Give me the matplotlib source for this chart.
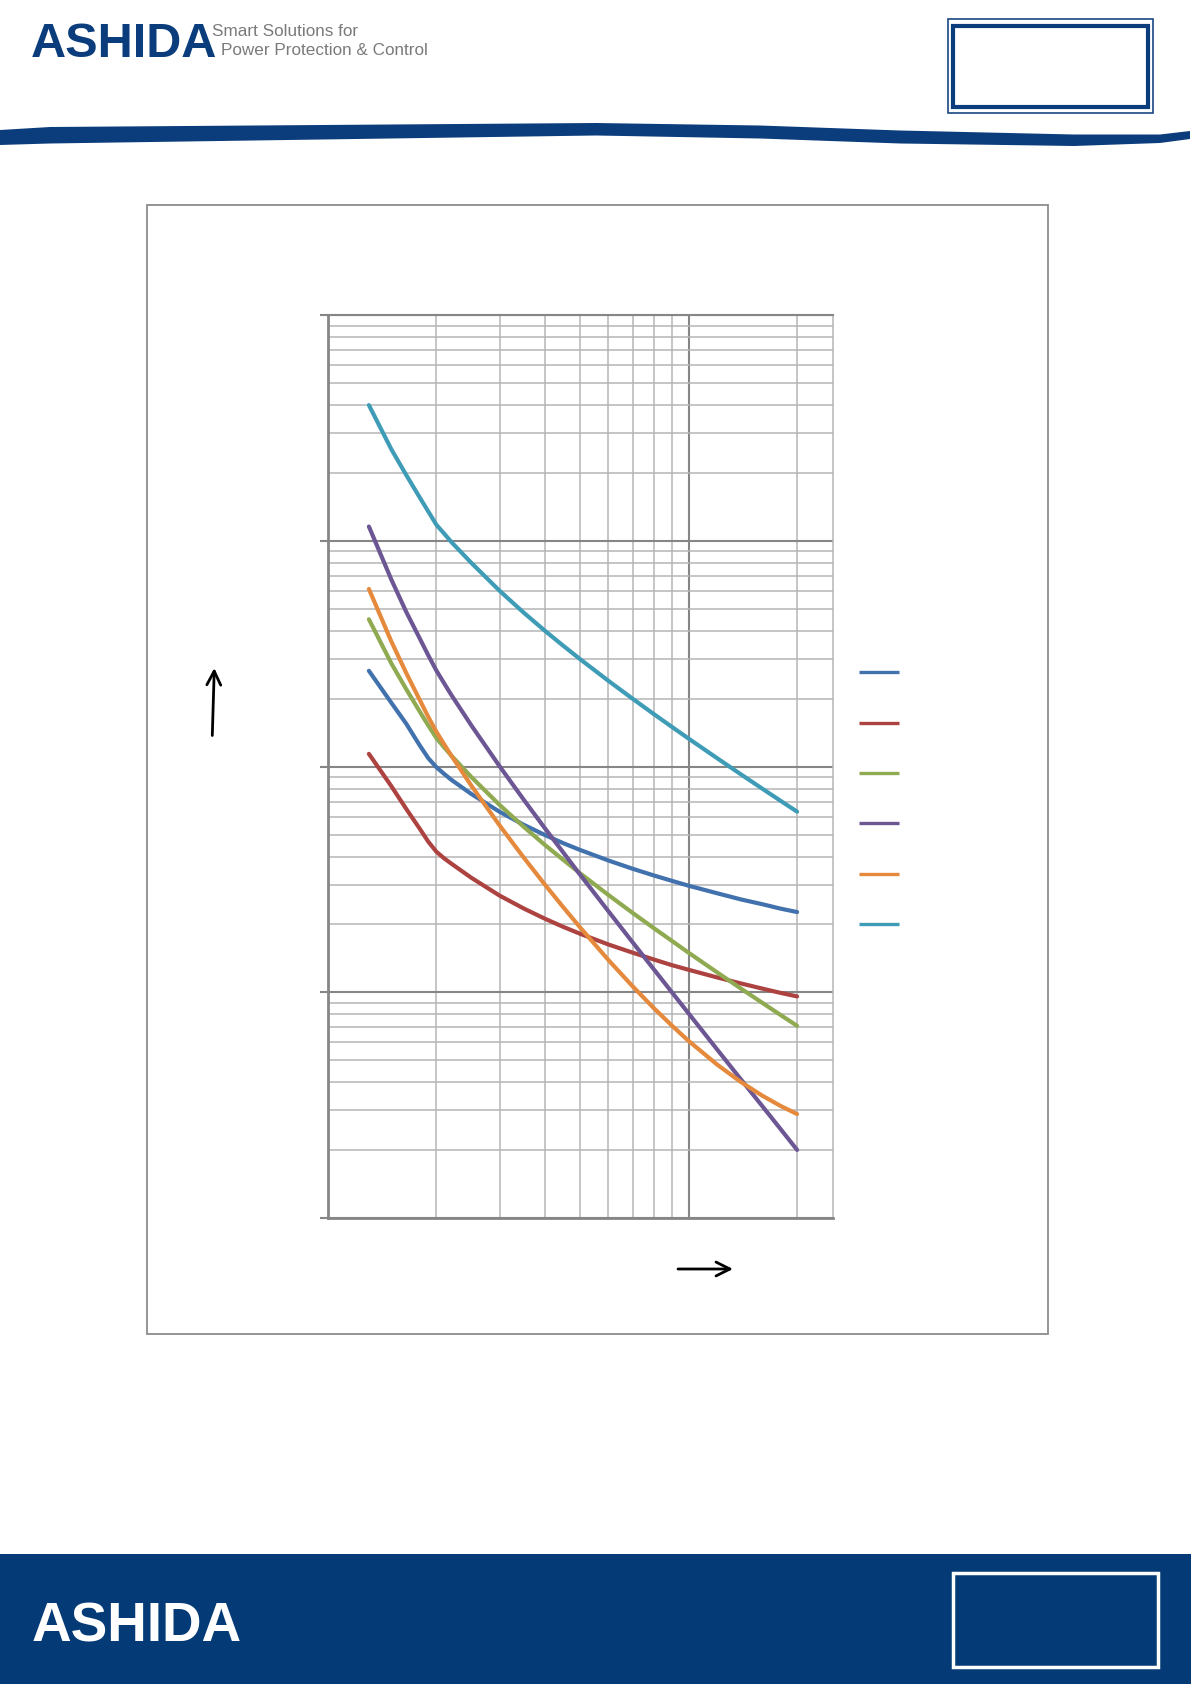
import numpy as np
import matplotlib
matplotlib.use("Agg")
import matplotlib.pyplot as plt
from matplotlib.patches import Rectangle, Polygon
from matplotlib.lines import Line2D
from matplotlib.ticker import LogLocator, NullFormatter

# ---------------- data ----------------
multiples = [1.3, 1.5, 1.65, 1.8, 1.9, 2, 2.1, 2.2, 2.5, 3, 3.5, 4, 4.5, 5, 6, 7, 8,
             9, 10, 12, 14, 16, 18, 20]

curve_blue = [26.6, 19.2, 15.5, 12.4, 10.9, 9.95, 9.3, 8.75, 7.57, 6.30, 5.52, 4.98,
              4.58, 4.28, 3.84, 3.53, 3.30, 3.12, 2.97, 2.75, 2.58, 2.46, 2.35, 2.27]
curve_red = [11.4, 8.2, 6.5, 5.3, 4.65, 4.2, 3.93, 3.72, 3.22, 2.68, 2.35, 2.12, 1.95,
             1.82, 1.63, 1.50, 1.40, 1.32, 1.26, 1.165, 1.095, 1.04, 0.995, 0.96]
curve_green = [45.0, 28.7, 22.05, 17.5, 15.2, 13.4, 12.2, 11.2, 9.0, 6.75, 5.4, 4.5,
               3.86, 3.375, 2.7, 2.25, 1.93, 1.69, 1.5, 1.227, 1.038, 0.90, 0.794, 0.711]
curve_purple = [115.9, 67.5, 48.5, 36.9, 31.1, 26.67, 23.46, 20.8, 15.24, 10.0, 7.11,
                5.33, 4.16, 3.33, 2.286, 1.667, 1.27, 1.0, 0.808, 0.559, 0.41, 0.314,
                0.248, 0.2005]
curve_orange = [61.3, 35.9, 26.0, 19.7, 16.6, 14.28, 12.59, 11.2, 8.24, 5.47, 3.94, 3.0,
                2.38, 1.945, 1.39, 1.064, 0.854, 0.712, 0.61, 0.479, 0.40, 0.349, 0.314,
                0.289]
curve_teal = [400, 255, 196, 155.5, 135, 118, 108, 99, 80, 60, 48, 40, 34.3, 30, 24, 20,
              17.14, 15, 13.33, 10.91, 9.23, 8.0, 7.06, 6.32]

series = [curve_blue, curve_red, curve_green, curve_purple, curve_orange, curve_teal]
colors = ["#4272AE", "#AD4341", "#8FAA50", "#6C5694", "#E5893D", "#3F9CB7"]

# ---------------- figure ----------------
W, H = 1191, 1684
fig = plt.figure(figsize=(W / 100, H / 100), dpi=100)
bg = fig.add_axes([0, 0, 1, 1])
bg.set_xlim(0, W)
bg.set_ylim(H, 0)
bg.axis("off")

NAVY = "#0b3d7c"

# header
bg.text(31, 57, "ASHIDA", fontsize=35, fontweight="bold", family="Liberation Sans",
        color=NAVY, va="baseline", ha="left")
bg.text(212, 36.5, "Smart Solutions for", fontsize=12.3, family="Liberation Sans",
        color="#7a7a7a", va="baseline", ha="left")
bg.text(221, 55, "Power Protection & Control", fontsize=12.3, family="Liberation Sans",
        color="#7a7a7a", va="baseline", ha="left")
bg.add_patch(Rectangle((948, 19), 205, 94, fill=False, ec="#1a4785", lw=1.2))
bg.add_patch(Rectangle((953, 26), 195, 81, fill=False, ec=NAVY, lw=3))

# swoosh band
top = [(0, 130), (50, 127), (322, 125), (596, 123), (760, 125.5), (900, 130.5),
       (1074, 134.5), (1160, 134.5), (1190, 131)]
bot = [(1190, 139), (1160, 143), (1074, 146), (900, 143.5), (760, 138.5), (596, 135.5),
       (322, 139.5), (50, 143.5), (0, 145)]
bg.add_patch(Polygon(top + bot, closed=True, fc=NAVY, ec="none"))

# chart frame
bg.add_patch(Rectangle((147, 205), 1048 - 147, 1334 - 205, fill=False, ec="#8c8c8c", lw=1.3))

# footer
bg.add_patch(Rectangle((0, 1554), W, H - 1554, fc="#043a75", ec="none"))
bg.add_patch(Rectangle((953, 1573), 205, 94, fill=False, ec="white", lw=2.5))
bg.text(32, 1641, "ASHIDA", fontsize=39.5, fontweight="bold", family="Liberation Sans",
        color="white", va="baseline", ha="left")

# axis arrows
bg.annotate("", xy=(214.3, 668), xytext=(212.3, 735.5),
            arrowprops=dict(arrowstyle="->", lw=2, color="black", mutation_scale=25,
                            shrinkA=0, shrinkB=0))
bg.annotate("", xy=(733, 1269), xytext=(678, 1269),
            arrowprops=dict(arrowstyle="->", lw=2, color="black", mutation_scale=25,
                            shrinkA=0, shrinkB=0))

# ---------------- chart axes ----------------
L, R, T, B = 327.8, 833.3, 315.3, 1218.1
ax = fig.add_axes([L / W, 1 - B / H, (R - L) / W, (B - T) / H])
ax.set_xscale("log")
ax.set_yscale("log")
ax.set_xlim(1, 25.2)
ax.set_ylim(0.1, 1000)
for a in (ax.xaxis, ax.yaxis):
    a.set_major_locator(LogLocator(base=10, numticks=20))
    a.set_minor_locator(LogLocator(base=10, subs=np.arange(2, 10), numticks=50))
    a.set_major_formatter(NullFormatter())
    a.set_minor_formatter(NullFormatter())
ax.set_axisbelow(True)
ax.grid(which="minor", color="#b5b5b5", lw=1.1)
ax.grid(which="major", color="#868686", lw=1.5)
ax.spines["left"].set_color("#868686")
ax.spines["left"].set_linewidth(2)
ax.spines["bottom"].set_color("#868686")
ax.spines["bottom"].set_linewidth(2)
ax.spines["top"].set_color("#868686")
ax.spines["top"].set_linewidth(1.5)
ax.spines["right"].set_color("#b5b5b5")
ax.spines["right"].set_linewidth(1.1)
ax.tick_params(axis="y", which="major", direction="out", length=6, width=1.5,
               color="#868686", labelleft=False)
ax.tick_params(axis="y", which="minor", length=0)
ax.tick_params(axis="x", which="both", length=0, labelbottom=False)
ax.patch.set_alpha(0)

for vals, c in zip(series, colors):
    ax.plot(multiples, vals, color=c, lw=3, solid_capstyle="round",
            solid_joinstyle="round", zorder=3)

# legend keys (the reference shows no legend text)
for i, c in enumerate(colors):
    y = 672.3 + i * 50.35
    bg.add_line(Line2D([858.5, 898.5], [y, y], color=c, lw=2.4, solid_capstyle="butt"))

fig.savefig("out.png", dpi=100)
